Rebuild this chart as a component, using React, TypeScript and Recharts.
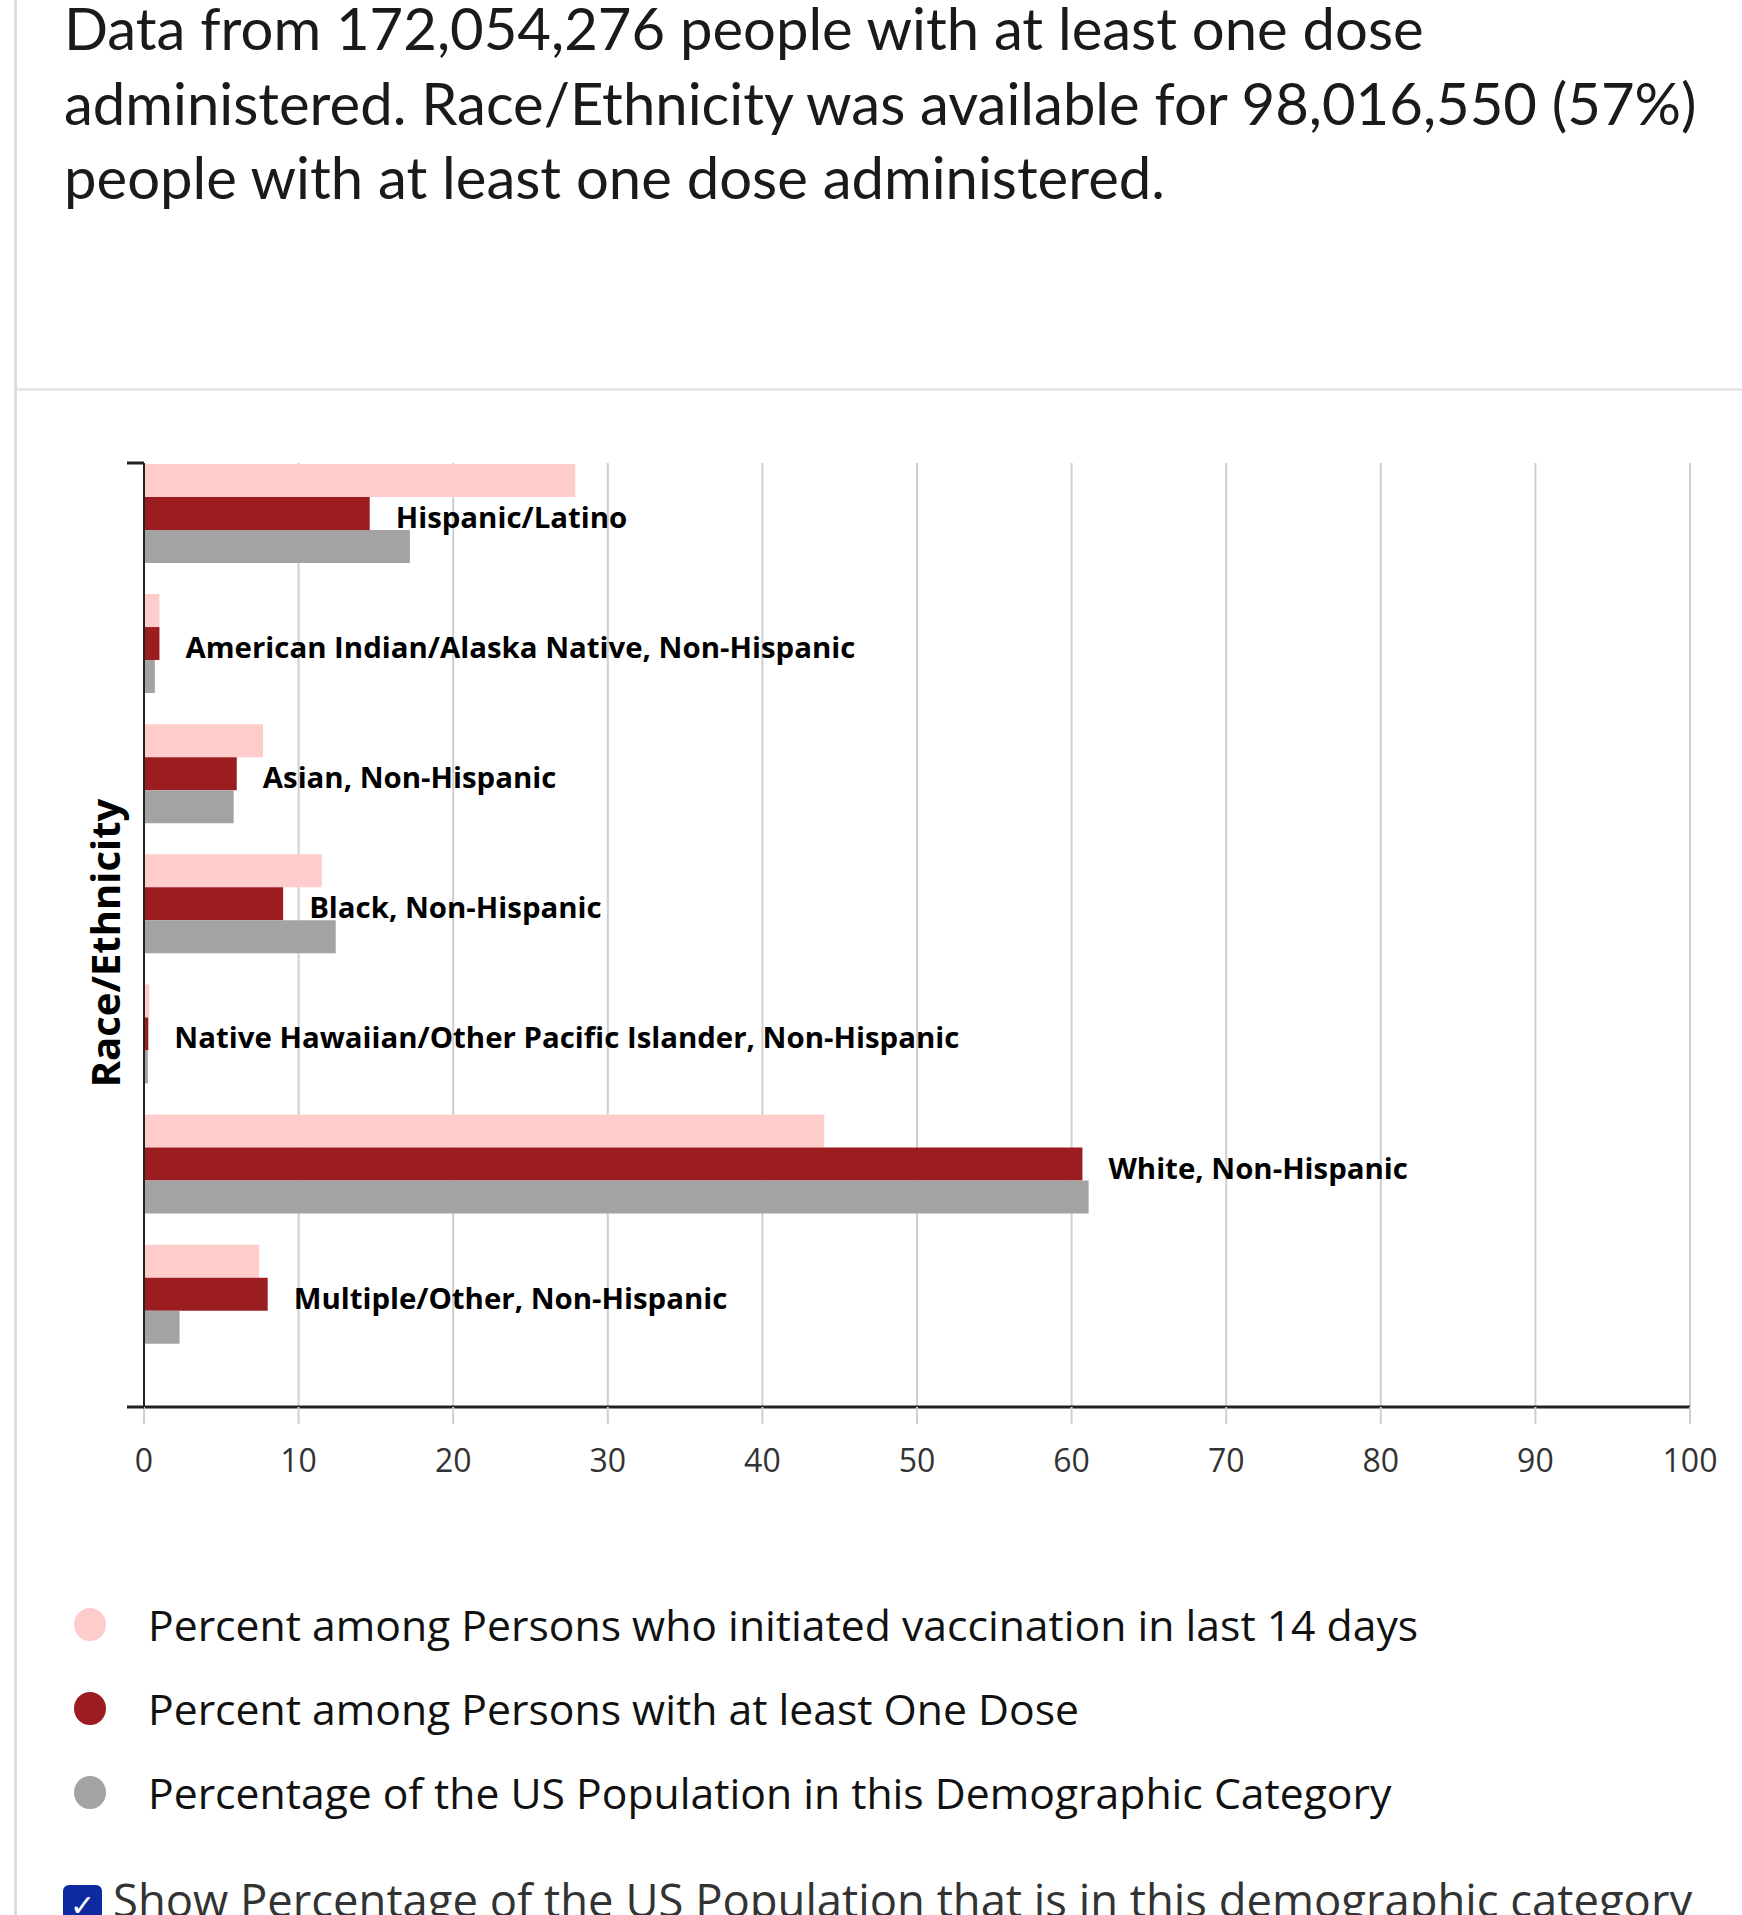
import React from "react";
import {
  Bar,
  BarChart,
  CartesianGrid,
  LabelList,
  XAxis,
  YAxis,
} from "recharts";

const categories = [
  "Hispanic/Latino",
  "American Indian/Alaska Native, Non-Hispanic",
  "Asian, Non-Hispanic",
  "Black, Non-Hispanic",
  "Native Hawaiian/Other Pacific Islander, Non-Hispanic",
  "White, Non-Hispanic",
  "Multiple/Other, Non-Hispanic",
];
const initiated14 = [27.9, 1.0, 7.7, 11.5, 0.35, 44.0, 7.45];
const oneDose = [14.6, 1.0, 6.0, 9.0, 0.28, 60.7, 8.0];
const usPopulation = [17.2, 0.7, 5.8, 12.4, 0.25, 61.1, 2.3];
const xTicks = [0, 10, 20, 30, 40, 50, 60, 70, 80, 90, 100];

const seriesNames = [
  "Percent among Persons who initiated vaccination in last 14 days",
  "Percent among Persons with at least One Dose",
  "Percentage of the US Population in this Demographic Category",
];
const seriesColors = ["#ffcccc", "#9b1d20", "#a3a3a3"];

const titleLines = [
  "Data from 172,054,276 people with at least one dose",
  "administered. Race/Ethnicity was available for 98,016,550 (57%)",
  "people with at least one dose administered.",
];

// y axis is numeric (row index) so the bar groups can sit at the top of each row
const yDomain = [-0.384, 6.87];

const rows = categories.map((name, i) => ({
  name,
  idx: i,
  initiated14: initiated14[i],
  oneDose: oneDose[i],
  usPopulation: usPopulation[i],
}));

const sans = "'Open Sans', sans-serif";

export default function App() {
  return (
    <div
      style={{
        position: "absolute",
        left: 0,
        top: 0,
        width: 1742,
        height: 1915,
        overflow: "hidden",
        background: "#fff",
      }}
    >
      <div style={{ position: "absolute", left: 14, top: 0, width: 3, height: 1915, background: "#dcdcdc" }} />
      <div style={{ position: "absolute", left: 17, top: 388, width: 1725, height: 3, background: "#e8e8e8" }} />

      <div
        style={{
          position: "absolute",
          left: 64,
          top: -9,
          fontFamily: "Lato, sans-serif",
          fontSize: 58,
          lineHeight: "74.5px",
          color: "#1a1a1a",
          whiteSpace: "nowrap",
        }}
      >
        {titleLines.map((l, i) => (
          <div key={i}>{l}</div>
        ))}
      </div>

      <div
        style={{
          position: "absolute",
          left: 104,
          top: 943,
          transform: "translate(-50%, -50%) rotate(-90deg)",
          fontFamily: sans,
          fontWeight: 700,
          fontSize: 40,
          color: "#000",
          whiteSpace: "nowrap",
        }}
      >
        Race/Ethnicity
      </div>

      <div style={{ position: "absolute", left: 0, top: 0 }}>
        <BarChart
          width={1742}
          height={1520}
          data={rows}
          layout="vertical"
          barGap={0}
          margin={{ top: 463, right: 52, left: 104, bottom: 33 }}
        >
          <CartesianGrid horizontal={false} stroke="#cfcfcf" strokeWidth={2} />
          <XAxis
            type="number"
            domain={[0, 100]}
            ticks={xTicks}
            interval={0}
            height={80}
            tickSize={17}
            tickMargin={25}
            tickLine={{ stroke: "#cfcfcf", strokeWidth: 2 }}
            axisLine={{ stroke: "#222", strokeWidth: 3 }}
            tick={{ fill: "#333", fontSize: 32, fontFamily: sans }}
          />
          <YAxis
            type="number"
            dataKey="idx"
            domain={yDomain}
            ticks={yDomain}
            width={40}
            tickSize={17}
            tickFormatter={() => ""}
            tickLine={{ stroke: "#222", strokeWidth: 3 }}
            axisLine={{ stroke: "#222", strokeWidth: 2 }}
          />
          <Bar dataKey="initiated14" fill={seriesColors[0]} barSize={33} isAnimationActive={false} />
          <Bar dataKey="oneDose" fill={seriesColors[1]} barSize={33} isAnimationActive={false}>
            <LabelList
              dataKey="name"
              position="right"
              offset={26}
              dy={4}
              fill="#000"
              style={{ fontFamily: sans, fontWeight: 700, fontSize: 29.4 }}
            />
          </Bar>
          <Bar dataKey="usPopulation" fill={seriesColors[2]} barSize={33} isAnimationActive={false} />
        </BarChart>
      </div>

      {seriesNames.map((n, i) => (
        <div
          key={n}
          style={{
            position: "absolute",
            left: 74,
            top: 1624.5 + i * 84 - 30,
            height: 60,
            display: "flex",
            alignItems: "center",
            fontFamily: sans,
            fontSize: 42.7,
            color: "#111",
            whiteSpace: "nowrap",
          }}
        >
          <span
            style={{
              display: "inline-block",
              width: 32,
              height: 33,
              borderRadius: "50%",
              background: seriesColors[i],
              marginRight: 42,
            }}
          />
          {n}
        </div>
      ))}

      <div
        style={{
          position: "absolute",
          left: 63,
          top: 1868,
          display: "flex",
          alignItems: "center",
          fontFamily: sans,
          fontSize: 45.4,
          color: "#333",
          whiteSpace: "nowrap",
        }}
      >
        <span
          style={{
            display: "inline-block",
            width: 39,
            height: 39,
            borderRadius: 6,
            background: "#0f2a9e",
            color: "#fff",
            fontSize: 30,
            lineHeight: "39px",
            textAlign: "center",
            marginRight: 11,
            marginTop: 10,
          }}
        >
          ✓
        </span>
        Show Percentage of the US Population that is in this demographic category
      </div>
    </div>
  );
}
